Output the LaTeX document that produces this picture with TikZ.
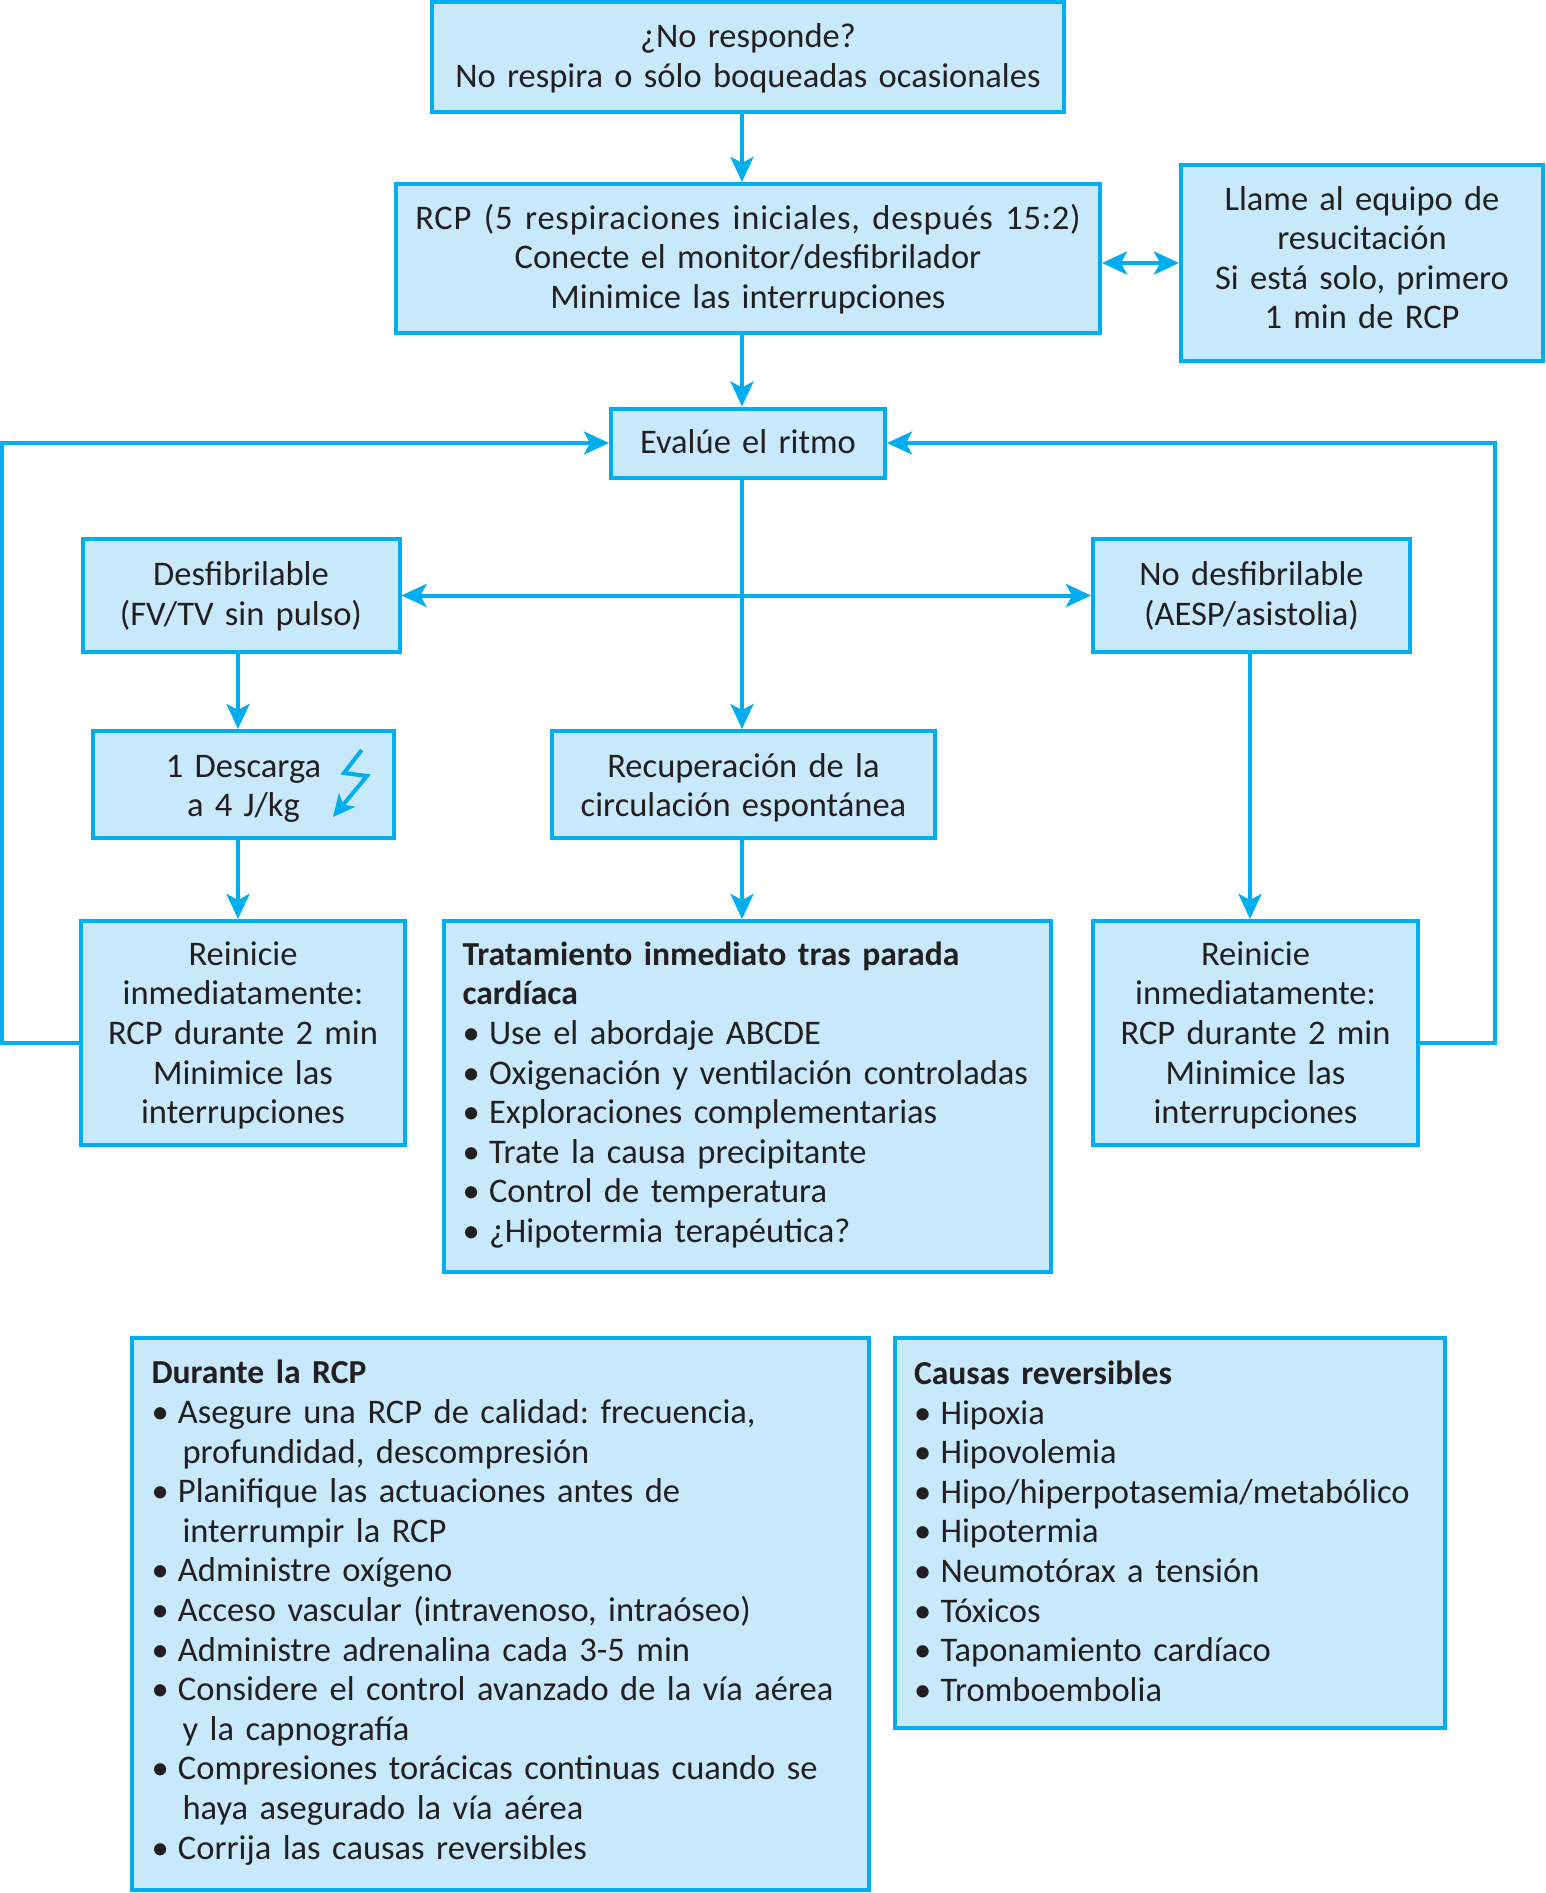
\documentclass[tikz,border=0pt]{standalone}
\usepackage{fontspec}
\setmainfont[WordSpace=1.45]{Carlito}
\usetikzlibrary{arrows.meta,calc}
\definecolor{edgeblue}{HTML}{00AEEF}
\definecolor{fillblue}{HTML}{C7E9FB}
\definecolor{inkc}{HTML}{231F20}
\newcommand{\bl}{\makebox[26.5pt][l]{\textbullet}}
\newcommand{\blc}{\hspace*{31pt}}
\newcommand{\tit}[1]{{\fontsize{33.6}{39.6}\selectfont\bfseries #1}}
% first-line and last-line struts: they fix the baselines inside a box
\newcommand{\Tl}[1]{\rule{0pt}{\dimexpr 44.8pt + 2\dimexpr #1pt\relax\relax}}
\newcommand{\Bl}{\rule[-20pt]{0pt}{0pt}}
\tikzset{
  box/.style={draw=edgeblue,fill=fillblue,line width=4pt,text=inkc,align=center,inner sep=0pt,
    font=\fontsize{34.5}{39.6}\selectfont\frenchspacing},
  listbox/.style={box,align=left},
  conn/.style={draw=edgeblue,line width=4pt,-{Stealth[length=25pt,width=23pt,inset=6pt]}},
  both/.style={conn,{Stealth[length=25pt,width=23pt,inset=6pt]}-{Stealth[length=25pt,width=23pt,inset=6pt]}},
  line/.style={draw=edgeblue,line width=4pt}
}
\begin{document}
\begin{tikzpicture}[x=1pt,y=-1pt]
\useasboundingbox (0,0) rectangle (1546,1893);
\coordinate (vmid) at (742,0);
\coordinate (vleft) at (238,0);
\coordinate (vright) at (1250,0);
\coordinate (lx) at (2,1043);
\coordinate (rx) at (1495,1043);

\node[box,minimum width=632pt,minimum height=110pt] (q) at (748,57) {\Tl{-2}¿No responde?\\No respira o sólo boqueadas ocasionales\Bl};
\node[box,minimum width=704pt,minimum height=149pt] (rcp) at (748,258.5) {\Tl{-2}{\addfontfeature{LetterSpace=2.3}RCP (5 respiraciones iniciales, después 15:2)}\\Conecte el monitor/desfibrilador\\Minimice las interrupciones\Bl};
\node[box,minimum width=362pt,minimum height=196pt] (team) at (1362,263) {\Tl{-6}Llame al equipo de\\resucitación\\Si está solo, primero\\1 min de RCP\Bl};
\node[box,minimum width=274pt,minimum height=69pt] (eval) at (748,443) {\Tl{-2}Evalúe el ritmo\Bl};
\node[box,minimum width=317pt,minimum height=113pt] (sh) at (241,595.5) {\Tl{-2.7}Desfibrilable\\(FV/TV sin pulso)\Bl};
\node[box,minimum width=317pt,minimum height=113pt] (nsh) at (1251.5,595.5) {\Tl{-2.7}No desfibrilable\\(AESP/asistolia)\Bl};
\node[box,minimum width=301pt,minimum height=107pt] (shock) at (243.5,784.5) {\Tl{0}1 Descarga\\a 4 J/kg\Bl};
\node[box,minimum width=383pt,minimum height=107pt] (rosc) at (743.5,784.5) {\Tl{0}Recuperación de la\\circulación espontánea\Bl};
\node[box,minimum width=324pt,minimum height=224pt] (rl) at (243,1033) {\Tl{-1}Reinicie\\inmediatamente:\\RCP durante 2 min\\Minimice las\\interrupciones\Bl};
\node[box,minimum width=325pt,minimum height=224pt] (rr) at (1255.5,1033) {\Tl{-1}Reinicie\\inmediatamente:\\RCP durante 2 min\\Minimice las\\interrupciones\Bl};
\node[listbox,minimum width=607pt,minimum height=351pt,text width=570pt] (post) at (747.5,1096.5) {\Tl{-5}\tit{Tratamiento inmediato tras parada}\\\tit{cardíaca}\\\bl Use el abordaje ABCDE\\\bl Oxigenación y ventilación controladas\\\bl Exploraciones complementarias\\\bl Trate la causa precipitante\\\bl Control de temperatura\\\bl ¿Hipotermia terapéutica?\Bl};
\node[listbox,minimum width=737pt,minimum height=552pt,text width=698pt] (during) at (500.5,1614) {\Tl{-5}\tit{Durante la RCP}\\\bl Asegure una RCP de calidad: frecuencia,\\\blc profundidad, descompresión\\\bl Planifique las actuaciones antes de\\\blc interrumpir la RCP\\\bl Administre oxígeno\\\bl Acceso vascular (intravenoso, intraóseo)\\\bl Administre adrenalina cada 3-5 min\\\bl Considere el control avanzado de la vía aérea\\\blc y la capnografía\\\bl Compresiones torácicas continuas cuando se\\\blc haya asegurado la vía aérea\\\bl Corrija las causas reversibles\Bl};
\node[listbox,minimum width=550pt,minimum height=390pt,text width=512pt] (causes) at (1170,1533) {\Tl{-2.6}\tit{Causas reversibles}\\\bl Hipoxia\\\bl Hipovolemia\\\bl Hipo/hiperpotasemia/metabólico\\\bl Hipotermia\\\bl Neumotórax a tensión\\\bl Tóxicos\\\bl Taponamiento cardíaco\\\bl Tromboembolia\Bl};

\draw[conn] (q.south -| vmid) -- (rcp.north -| vmid);
\draw[conn] (rcp.south -| vmid) -- (eval.north -| vmid);
\draw[both] (rcp.east |- team.west) -- (team.west);
\draw[conn] (eval.south -| vmid) -- (rosc.north -| vmid);
\draw[conn] (sh.east -| vmid) -- (sh.east);
\draw[conn] (sh.east -| vmid) -- (nsh.west);
\draw[conn] (sh.south -| vleft) -- (shock.north -| vleft);
\draw[conn] (shock.south -| vleft) -- (rl.north -| vleft);
\draw[conn] (rosc.south -| vmid) -- (post.north -| vmid);
\draw[conn] (nsh.south -| vright) -- (rr.north -| vright);
\draw[conn] (rl.west |- lx) -- (lx) -- (lx |- eval.west) -- (eval.west);
\draw[conn] (rr.east |- rx) -- (rx) -- (rx |- eval.east) -- (eval.east);
% lightning symbol inside the shock box
\draw[edgeblue,line width=4pt,-{Stealth[length=22pt,width=21pt,inset=6pt]}] (361.7,750) -- (344,773) -- (367,776) -- (333,817);
\end{tikzpicture}
\end{document}
